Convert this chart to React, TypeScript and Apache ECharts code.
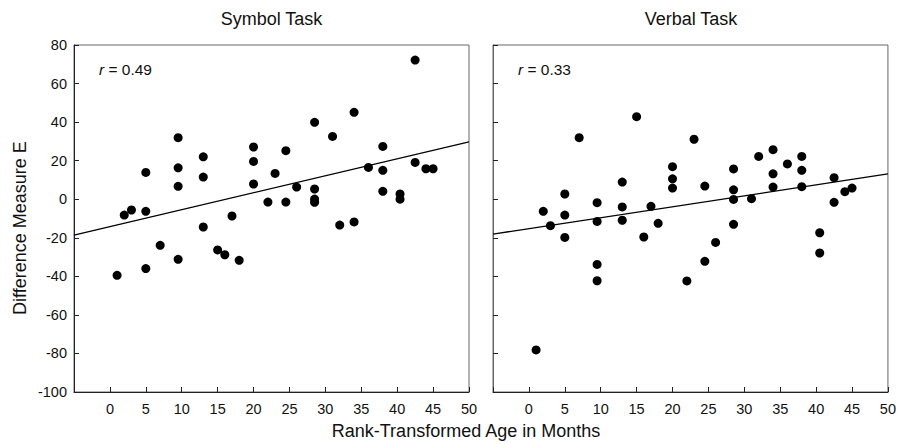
import React, { useEffect, useRef } from "react";
import * as echarts from "echarts";

const xTicks = [0, 5, 10, 15, 20, 25, 30, 35, 40, 45, 50];
const yTicks = [-100, -80, -60, -40, -20, 0, 20, 40, 60, 80];

const symbolX = [42.5, 34, 28.5, 31, 9.5, 20, 38, 24.5, 13, 20, 42.5, 9.5, 36, 44, 45, 38, 5, 23, 13, 20, 9.5, 26, 28.5, 38, 40.4, 28.5, 40.4, 28.5, 22, 24.5, 3, 5, 2, 17, 13, 32, 34, 7, 15, 16, 9.5, 18, 5, 1];
const symbolY = [72.2, 45.1, 39.9, 32.6, 31.9, 27.1, 27.4, 25.2, 22.0, 19.6, 19.1, 16.3, 16.5, 15.8, 15.8, 15.0, 13.9, 13.4, 11.5, 7.9, 6.7, 6.3, 5.3, 4.1, 2.7, 0.1, 0, -1.6, -1.5, -1.5, -5.6, -6.3, -8.2, -8.7, -14.4, -13.4, -11.8, -23.9, -26.3, -28.8, -31.2, -31.7, -36.0, -39.5];

const verbalX = [15, 7, 23, 34, 32, 38, 36, 20, 28.5, 38, 34, 42.5, 20, 13, 24.5, 20, 34, 38, 45, 44, 5, 28.5, 28.5, 31, 9.5, 42.5, 13, 17, 2, 5, 3, 9.5, 13, 18, 28.5, 5, 16, 26, 40.5, 40.5, 24.5, 9.5, 9.5, 22, 1];
const verbalY = [42.8, 31.9, 31.1, 25.7, 22.2, 22.2, 18.3, 16.9, 15.7, 15.0, 13.2, 11.2, 10.6, 8.9, 6.8, 5.8, 6.3, 6.5, 5.8, 3.9, 2.7, 4.9, -0.1, 0.3, -1.8, -1.6, -4.0, -3.7, -6.3, -8.2, -13.7, -11.5, -10.9, -12.5, -13.0, -19.8, -19.6, -22.4, -17.4, -27.9, -32.2, -33.8, -42.3, -42.4, -78.2];

// fitted regression line end points (x at axis limits)
const fitX = [-5, 50];
const symbolFitY = [-18.6, 29.8];
const verbalFitY = [-18.1, 13.1];

const panelTitles = ["Symbol Task", "Verbal Task"];
const rLabels = ["0.49", "0.33"];
const xTitle = "Rank-Transformed Age in Months";
const yTitle = "Difference Measure E";

const FONT = "'Liberation Sans', Arial, Helvetica, sans-serif";

export default function App() {
  const ref = useRef<HTMLDivElement>(null);
  useEffect(() => {
    if (!ref.current) return;
    const chart = echarts.init(ref.current, null, { renderer: "svg" });
    const grids = [
      { left: 74, top: 45, width: 395, height: 347 },
      { left: 493, top: 45, width: 396, height: 347 },
    ];
    const pairs = (xs: number[], ys: number[]) => xs.map((x, i) => [x, ys[i]]);
    const xAxis = grids.map((_, i) => ({
      type: "value",
      gridIndex: i,
      min: -5,
      max: 50,
      interval: 5,
      splitLine: { show: false },
      axisLine: { show: true, onZero: false, lineStyle: { color: "#222", width: 1 } },
      axisTick: { show: true, inside: true, length: 5, lineStyle: { color: "#222" } },
      axisLabel: {
        show: true,
        margin: 9,
        color: "#111",
        fontSize: 14.5,
        fontFamily: FONT,
        formatter: (v: number) => (xTicks.includes(v) ? String(v) : ""),
      },
    }));
    const yAxis = grids.map((_, i) => ({
      type: "value",
      gridIndex: i,
      min: -100,
      max: 80,
      interval: 20,
      splitLine: { show: false },
      axisLine: { show: true, onZero: false, lineStyle: { color: i === 0 ? "#222" : "#666", width: 1 } },
      axisTick: { show: true, inside: true, length: 5, lineStyle: { color: "#222" } },
      axisLabel: {
        show: i === 0,
        margin: 7,
        color: "#111",
        fontSize: 14.5,
        fontFamily: FONT,
        formatter: (v: number) => (yTicks.includes(v) ? String(v) : ""),
      },
    }));
    const scatterStyle = { color: "#000", opacity: 1 };
    const series: any[] = [
      {
        type: "scatter",
        xAxisIndex: 0,
        yAxisIndex: 0,
        symbolSize: 9,
        itemStyle: scatterStyle,
        data: pairs(symbolX, symbolY),
      },
      {
        type: "line",
        xAxisIndex: 0,
        yAxisIndex: 0,
        symbol: "none",
        lineStyle: { color: "#000", width: 1.3 },
        data: pairs(fitX, symbolFitY),
        z: 1,
      },
      {
        type: "scatter",
        xAxisIndex: 1,
        yAxisIndex: 1,
        symbolSize: 9,
        itemStyle: scatterStyle,
        data: pairs(verbalX, verbalY),
      },
      {
        type: "line",
        xAxisIndex: 1,
        yAxisIndex: 1,
        symbol: "none",
        lineStyle: { color: "#000", width: 1.3 },
        data: pairs(fitX, verbalFitY),
        z: 1,
      },
    ];
    const graphic: any[] = [];
    grids.forEach((g, i) => {
      graphic.push({
        type: "text",
        x: g.left + g.width / 2,
        y: 19,
        style: {
          text: panelTitles[i],
          align: "center",
          verticalAlign: "middle",
          fontSize: 18,
          fontFamily: FONT,
          fill: "#111",
        },
      });
      graphic.push({
        type: "text",
        x: g.left + 25,
        y: 69,
        style: {
          text: "{i|r} = " + rLabels[i],
          align: "left",
          verticalAlign: "middle",
          fontSize: 15.5,
          fontFamily: FONT,
          fill: "#111",
          rich: {
            i: { fontStyle: "italic", fontSize: 15.5, fontFamily: FONT, fill: "#111" },
          },
        },
      });
    });
    graphic.push({
      type: "text",
      x: 466,
      y: 431,
      style: {
        text: xTitle,
        align: "center",
        verticalAlign: "middle",
        fontSize: 18,
        fontFamily: FONT,
        fill: "#111",
      },
    });
    graphic.push({
      type: "text",
      x: 20,
      y: 228,
      rotation: Math.PI / 2,
      style: {
        text: yTitle,
        align: "center",
        verticalAlign: "middle",
        fontSize: 18,
        fontFamily: FONT,
        fill: "#111",
      },
    });
    chart.setOption({
      animation: false,
      backgroundColor: "#fff",
      grid: grids.map((g) => ({ ...g, show: true, borderColor: "#666", borderWidth: 1, backgroundColor: "transparent" })),
      xAxis,
      yAxis,
      series,
      graphic,
    });
    return () => chart.dispose();
  }, []);
  return (
    <div
      ref={ref}
      style={{ position: "fixed", left: 0, top: 0, width: 899, height: 444, background: "#fff" }}
    />
  );
}
